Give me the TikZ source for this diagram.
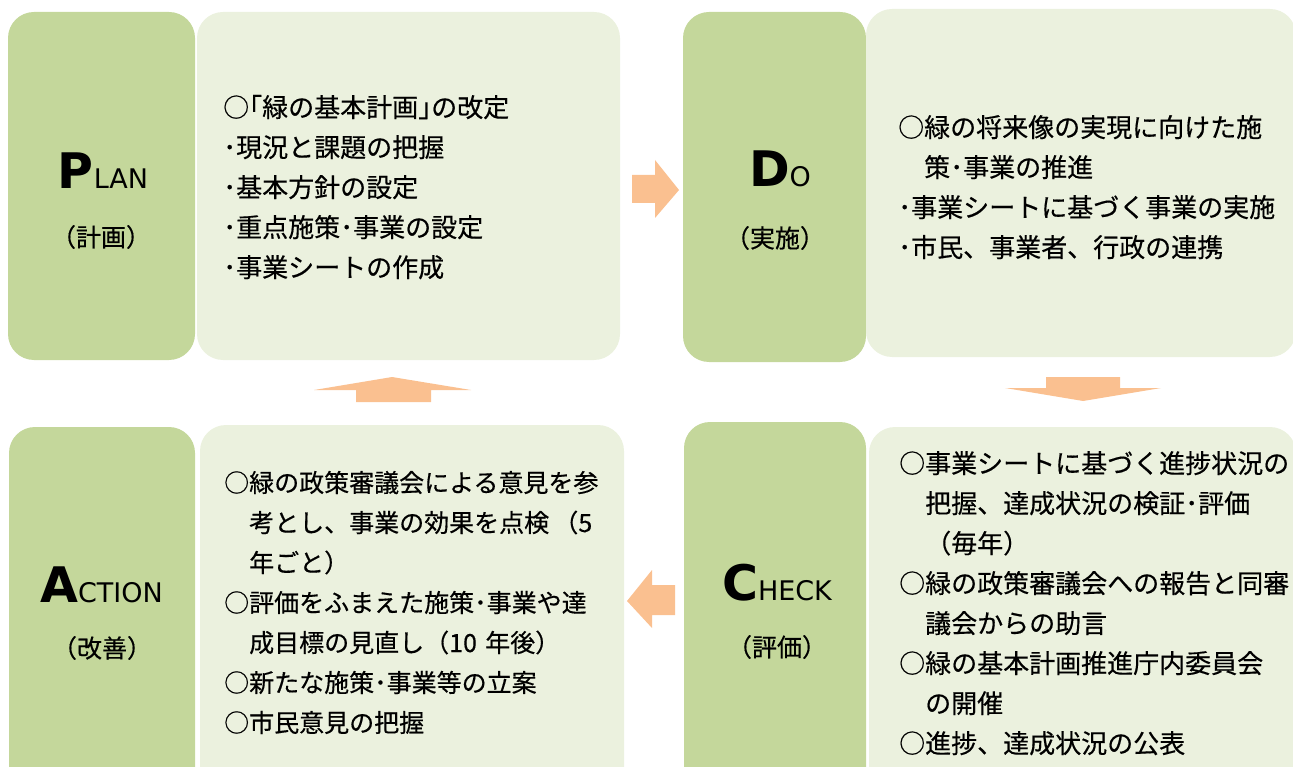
\documentclass[tikz,border=0pt]{standalone}
\usepackage{fontspec}
\setmainfont{Noto Sans CJK JP}[FakeBold=0.4]
\newfontfamily\latinlab{DejaVu Sans}
\definecolor{labgreen}{HTML}{C4D79B}
\definecolor{boxgreen}{HTML}{EBF1DE}
\definecolor{arroworange}{HTML}{FAC090}
\tikzset{
  labbox/.style={fill=labgreen, rounded corners=26pt, inner sep=0pt},
  txtbox/.style={fill=boxgreen, rounded corners=26pt, inner sep=0pt},
  blockarrow/.style={fill=arroworange},
  body/.style={font=\fontsize{26}{40}\selectfont, align=left, text width=430pt, inner sep=0pt, anchor=base west},
  ttl/.style={anchor=base, inner sep=0pt, font=\latinlab},
  sub/.style={font=\fontsize{25}{30}\selectfont, inner sep=0pt},
}
\newcommand{\capbig}[1]{{\fontsize{49}{49}\selectfont\bfseries #1}}
\newcommand{\capsml}[1]{{\fontsize{27}{27}\selectfont #1}}
\begin{document}
\begin{tikzpicture}[x=1pt,y=-1pt]
\useasboundingbox (0,0) rectangle (1293,767);
\clip (0,0) rectangle (1293,767);
% boxes
\node[labbox, minimum width=187pt, minimum height=348pt] (planbg) at (101.5,186) {};
\node[txtbox, minimum width=423pt, minimum height=348pt] (plantxtbg) at (408.5,186) {};
\node[labbox, minimum width=183pt, minimum height=350pt] (dobg) at (774.5,187) {};
\node[txtbox, minimum width=430pt, minimum height=348pt] (dotxtbg) at (1081,183) {};
\node[labbox, minimum width=186pt, minimum height=373pt] (actbg) at (102,613.5) {};
\node[txtbox, minimum width=424pt, minimum height=375pt] (acttxtbg) at (412,612.5) {};
\node[labbox, minimum width=182pt, minimum height=378pt] (chkbg) at (775,611) {};
\node[txtbox, minimum width=427pt, minimum height=373pt] (chktxtbg) at (1082.5,613.5) {};
% arrows
\fill[blockarrow] (632,175) -- (655,175) -- (655,160) -- (679,190) -- (655,218) -- (655,203) -- (632,203) -- cycle;
\fill[blockarrow] (1046,377) -- (1120,377) -- (1120,388) -- (1161,388) -- (1083,401) -- (1005,388) -- (1046,388) -- cycle;
\fill[blockarrow] (675,585) -- (652,585) -- (652,570) -- (627,601) -- (652,628) -- (652,615) -- (675,615) -- cycle;
\fill[blockarrow] (356,402) -- (431,402) -- (431,390) -- (471,390) -- (392,377) -- (314,390) -- (356,390) -- cycle;
% titles
\node[ttl] (plantitle) at (103,189) {\capbig{P}\capsml{LAN}};
\node[sub] (plansub) at (101,237) {（計画）};
\node[ttl] (dotitle) at (780,187) {\capbig{D}\capsml{O}};
\node[sub] (dosub) at (775,238) {（実施）};
\node[ttl] (acttitle) at (101.5,602) {\capbig{A}\capsml{CTION}};
\node[sub] (actsub) at (102,648) {（改善）};
\node[ttl] (chktitle) at (777,600) {\capbig{C}\capsml{HECK}};
\node[sub] (chksub) at (777,647) {（評価）};
% texts
\node[body] (plantext) at (223,117) {○｢緑の基本計画｣の改定\\
･現況と課題の把握\\
･基本方針の設定\\
･重点施策･事業の設定\\
･事業シートの作成};
\node[body] (dotext) at (898,137) {○緑の将来像の実現に向けた施\\
\hspace*{1em}策･事業の推進\\
･事業シートに基づく事業の実施\\
･市民、事業者、行政の連携};
\node[body, font=\fontsize{25}{40}\selectfont] (acttext) at (224,492) {○緑の政策審議会による意見を参\\
\hspace*{1em}考とし、事業の効果を点検\,（5\\
\hspace*{1em}年ごと）\\
○評価をふまえた施策･事業や達\\
\hspace*{1em}成目標の見直し（10 年後）\\
○新たな施策･事業等の立案\\
○市民意見の把握};
\node[body] (chktext) at (899,473) {○事業シートに基づく進捗状況の\\
\hspace*{1em}把握、達成状況の検証･評価\\
\hspace*{1em}（毎年）\\
○緑の政策審議会への報告と同審\\
\hspace*{1em}議会からの助言\\
○緑の基本計画推進庁内委員会\\
\hspace*{1em}の開催\\
○進捗、達成状況の公表};
\end{tikzpicture}
\end{document}
